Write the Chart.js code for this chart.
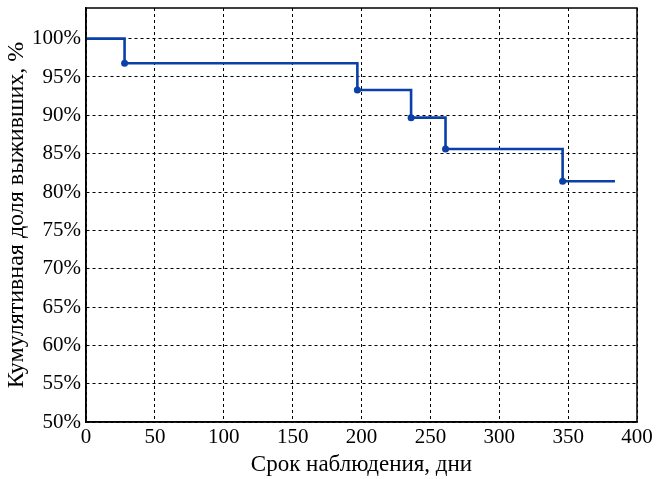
<!DOCTYPE html>
<html>
<head>
<meta charset="utf-8">
<script src="https://cdn.jsdelivr.net/npm/chart.js@4"></script>
<style>
  html, body { margin: 0; padding: 0; background: #fff; }
  #wrap { width: 663px; height: 479px; }
</style>
</head>
<body>
<div id="wrap"><canvas id="survivalChart" width="663" height="479"></canvas></div>
<script>
// observation days and cumulative survival, %
const days = [0, 28, 197, 236, 261, 346, 384];
const survival = [100, 96.8, 93.3, 89.7, 85.6, 81.4, 81.4];
const markers = [0, 1, 1, 1, 1, 1, 0];  // dot at each drop

const xTicks = [0, 50, 100, 150, 200, 250, 300, 350, 400];
const yTicks = [50, 55, 60, 65, 70, 75, 80, 85, 90, 95, 100];

const xTitle = 'Срок наблюдения, дни';
const yTitle = 'Кумулятивная доля выживших, %';

const FONT = 'Liberation Serif, Times New Roman, serif';

// draw the full frame round the plot
const frameBox = {
  id: 'frameBox',
  afterDraw(chart) {
    const a = chart.chartArea, c = chart.ctx;
    c.save();
    c.strokeStyle = '#000';
    c.lineWidth = 1.5;
    c.strokeRect(a.left, a.top, a.right - a.left, a.bottom - a.top);
    c.restore();
  }
};

document.addEventListener('DOMContentLoaded', function () {
  const ctx = document.getElementById('survivalChart').getContext('2d');
  new Chart(ctx, {
    type: 'line',
    data: {
      datasets: [{
        data: days.map((d, i) => ({ x: d, y: survival[i] })),
        borderColor: '#0a40a8',
        backgroundColor: '#0a40a8',
        borderWidth: 2.6,
        stepped: true,
        fill: false,
        pointRadius: markers.map(m => m ? 3.5 : 0),
        pointHoverRadius: 0,
        pointBorderWidth: 0
      }]
    },
    options: {
      responsive: false,
      animation: false,
      layout: { padding: { left: 2, right: 26, top: 8, bottom: 0 } },
      plugins: { legend: { display: false }, tooltip: { enabled: false } },
      scales: {
        x: {
          type: 'linear',
          min: 0,
          max: 400,
          afterBuildTicks: s => { s.ticks = xTicks.map(v => ({ value: v })); },
          afterFit: s => { s.height = 57; s.paddingLeft = 0; },
          ticks: { color: '#000', font: { family: FONT, size: 21 }, padding: 3, maxRotation: 0 },
          grid: { color: '#000', lineWidth: 1, drawTicks: false },
          border: { color: '#000', width: 1.5, dash: [3, 3] },
          title: { display: true, text: xTitle, color: '#000', font: { family: FONT, size: 23 }, padding: { top: 2, bottom: 0 } }
        },
        y: {
          min: 50,
          max: 104,
          afterBuildTicks: s => { s.ticks = yTicks.map(v => ({ value: v })); },
          afterFit: s => { s.width = 84; s.paddingTop = 0; s.paddingBottom = 0; },
          ticks: {
            color: '#000',
            font: { family: FONT, size: 21 },
            padding: 5,
            callback: v => v + '%'
          },
          grid: { color: '#000', lineWidth: 1, drawTicks: false },
          border: { color: '#000', width: 1.5, dash: [3, 3] },
          title: { display: true, text: yTitle, color: '#000', font: { family: FONT, size: 24 }, padding: { top: 0, bottom: 0 } }
        }
      }
    },
    plugins: [frameBox]
  });
});
</script>
</body>
</html>
